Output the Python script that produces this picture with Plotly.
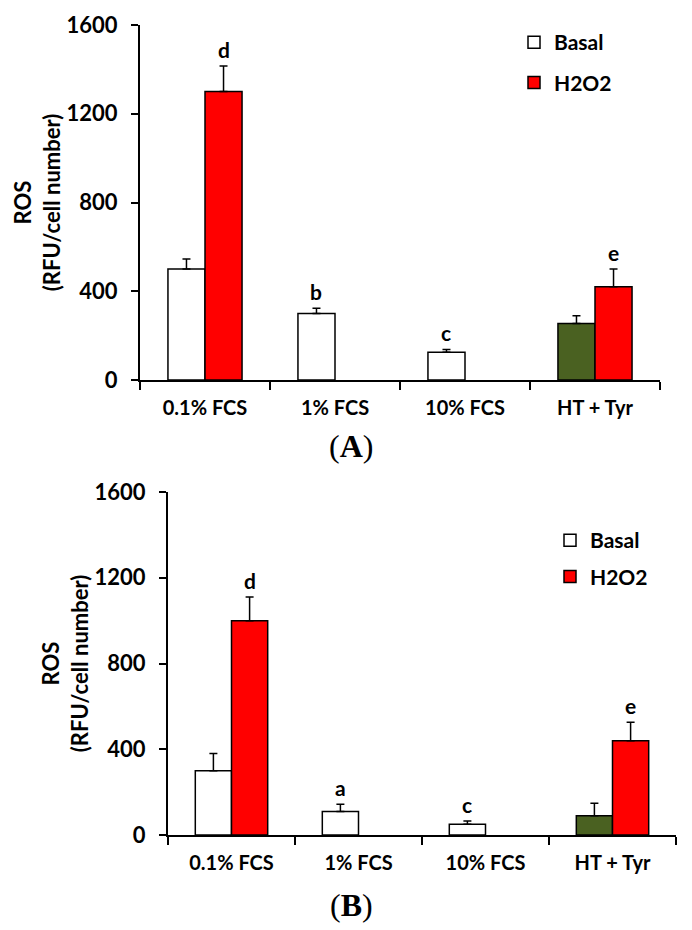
import plotly.graph_objects as go

categories = ["0.1% FCS", "1% FCS", "10% FCS", "HT + Tyr"]

# Panel A
a_basal = [500, 300, 125, 255]
a_basal_err = [45, 23, 13, 35]
a_h2o2 = [1300, None, None, 420]
a_h2o2_err = [115, 0, 0, 80]
a_basal_letters = ["", "b", "c", ""]
a_h2o2_letters = ["d", "", "", "e"]

# Panel B
b_basal = [300, 110, 50, 90]
b_basal_err = [80, 33, 15, 58]
b_h2o2 = [1000, None, None, 440]
b_h2o2_err = [110, 0, 0, 86]
b_basal_letters = ["", "a", "c", ""]
b_h2o2_letters = ["d", "", "", "e"]

y_ticks = [0, 400, 800, 1200, 1600]

basal_colors = ["#FFFFFF", "#FFFFFF", "#FFFFFF", "#4A6121"]
RED = "#FF0000"
FONT = "Lato"
BARGAP = 0.43
OFF = (1 - BARGAP) / 4

# page body has an 8px margin; figure is sized to fit the window
W, H, PAD = 684, 922, 8
def px(x):
    return (x - PAD) / W
def py(y):
    return 1 - (y - PAD) / H

fig = go.Figure()

def add_panel(basal, basal_err, h2o2, h2o2_err, xa, ya, legend):
    fig.add_trace(go.Bar(
        x=categories, y=basal, name="Basal", xaxis=xa, yaxis=ya, legend=legend,
        legendgroup=legend + "b",
        marker=dict(color=basal_colors, line=dict(color="black", width=1.5)),
        error_y=dict(type="data", array=basal_err, arrayminus=[0] * len(basal_err),
                     symmetric=False, color="black", thickness=1.5, width=4),
    ))
    fig.add_trace(go.Bar(
        x=categories, y=h2o2, name="H2O2", xaxis=xa, yaxis=ya, legend=legend,
        legendgroup=legend + "h",
        marker=dict(color=RED, line=dict(color="black", width=1.5)),
        error_y=dict(type="data", array=h2o2_err, arrayminus=[0] * len(h2o2_err),
                     symmetric=False, color="black", thickness=1.5, width=4),
    ))

add_panel(a_basal, a_basal_err, a_h2o2, a_h2o2_err, "x", "y", "legend")
add_panel(b_basal, b_basal_err, b_h2o2, b_h2o2_err, "x2", "y2", "legend2")

annotations = []
def add_letters(vals, errs, letters, offset, xref, yref):
    for i, (v, e, t) in enumerate(zip(vals, errs, letters)):
        if t and v is not None:
            annotations.append(dict(
                x=i + offset, y=v + e, xref=xref, yref=yref, text=t,
                showarrow=False, yanchor="bottom", yshift=2,
                font=dict(family=FONT, size=21, color="black", weight="bold"),
            ))

add_letters(a_basal, a_basal_err, a_basal_letters, -OFF, "x", "y")
add_letters(a_h2o2, a_h2o2_err, a_h2o2_letters, OFF, "x", "y")
add_letters(b_basal, b_basal_err, b_basal_letters, -OFF, "x2", "y2")
add_letters(b_h2o2, b_h2o2_err, b_h2o2_letters, OFF, "x2", "y2")

for label, yc in [("(<b>A</b>)", py(446)), ("(<b>B</b>)", py(905))]:
    annotations.append(dict(
        x=px(351), y=yc, xref="paper", yref="paper", text=label, showarrow=False,
        xanchor="center", yanchor="middle",
        font=dict(family="Liberation Serif", size=32, color="black"),
    ))

xcommon = dict(
    type="category", showline=True, linecolor="black", linewidth=2,
    ticks="outside", ticklen=8, tickwidth=2, tickcolor="black", tickson="boundaries",
    tickfont=dict(family=FONT, size=20, color="black", weight="bold"),
    ticklabelstandoff=9, showgrid=False, zeroline=False, automargin=False,
    categoryorder="array", categoryarray=categories,
)
ycommon = dict(
    range=[0, 1600], tickvals=y_ticks, showline=True, linecolor="black", linewidth=2,
    ticks="outside", ticklen=7, tickwidth=2, tickcolor="black",
    tickfont=dict(family=FONT, size=22, color="black", weight="bold"),
    ticklabelstandoff=9, showgrid=False, zeroline=False, automargin=False,
    title=dict(text="ROS<br>(RFU/cell number)", standoff=0,
               font=dict(family=FONT, size=22, color="black", weight="bold")),
)

legfont = dict(family=FONT, size=21, color="black", weight="bold")

fig.update_layout(
    width=W, height=H,
    margin=dict(l=0, r=0, t=0, b=0, autoexpand=False),
    paper_bgcolor="white", plot_bgcolor="white",
    barmode="group", bargap=BARGAP, bargroupgap=0,
    xaxis=dict(domain=[px(140), px(660)], anchor="y", **xcommon),
    yaxis=dict(domain=[py(380), py(25)], anchor="x", **ycommon),
    xaxis2=dict(domain=[px(168), px(676)], anchor="y2", **xcommon),
    yaxis2=dict(domain=[py(835), py(492)], anchor="x2", **ycommon),
    legend=dict(x=px(514), y=py(22), xanchor="left", yanchor="top",
                font=legfont, tracegroupgap=10, bgcolor="rgba(0,0,0,0)", itemwidth=30),
    legend2=dict(x=px(550), y=py(520), xanchor="left", yanchor="top",
                 font=legfont, tracegroupgap=6, bgcolor="rgba(0,0,0,0)", itemwidth=30),
    annotations=annotations,
    showlegend=True,
)

fig.write_html("out.html")
